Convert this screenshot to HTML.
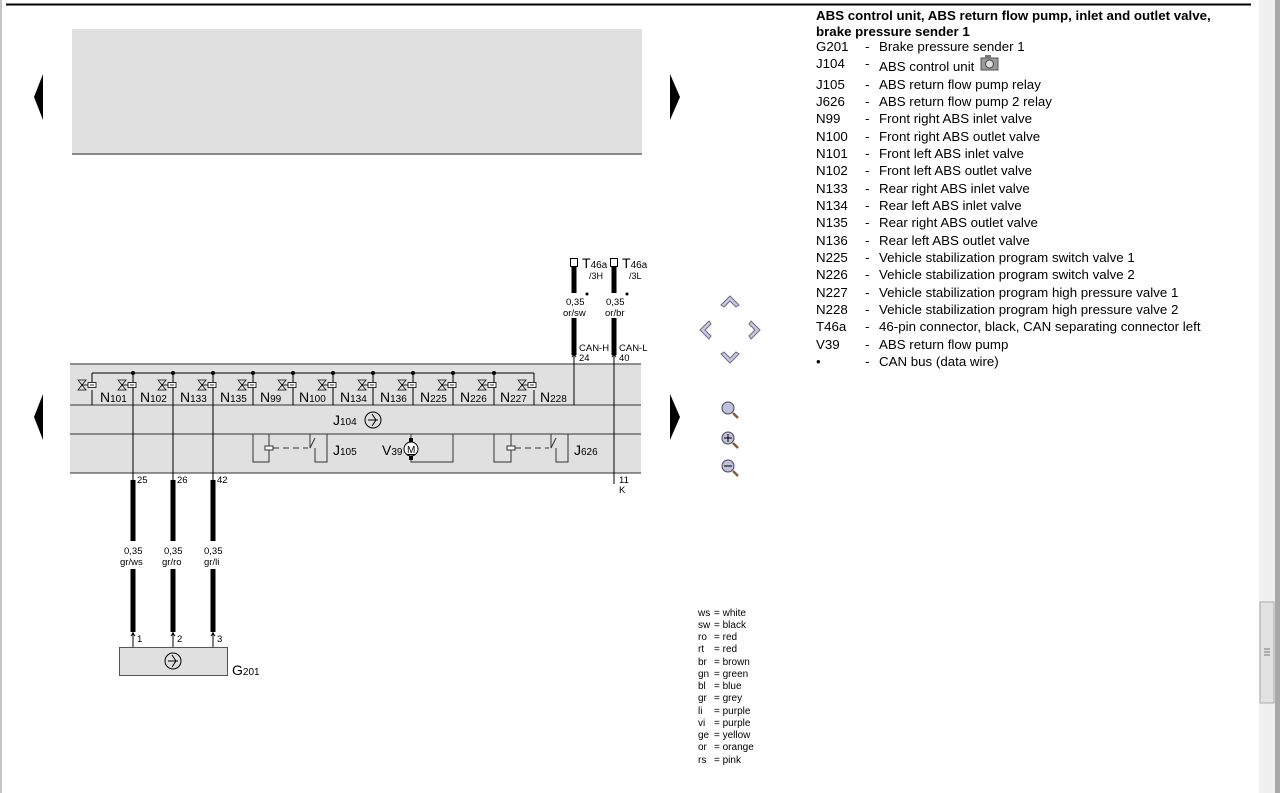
<!DOCTYPE html>
<html><head><meta charset="utf-8"><style>
html,body{margin:0;padding:0;background:#fff;width:1280px;height:793px;overflow:hidden}
svg{position:absolute;left:0;top:0}
text{font-family:"Liberation Sans",Arial,sans-serif;fill:#000}
</style></head><body>
<svg width="1280" height="793" viewBox="0 0 1280 793">
<line x1="1" y1="0" x2="1" y2="793" stroke="#888" stroke-width="1"/>
<line x1="6" y1="4.5" x2="1251" y2="4.5" stroke="#000" stroke-width="2"/>
<rect x="1259" y="0" width="21" height="793" fill="#f0f0f0"/>
<rect x="1275" y="0" width="5" height="793" fill="#a8a8a8"/>
<rect x="1260" y="602" width="14" height="101" fill="#e2e2e2" stroke="#aaa"/>
<path d="M1264 649h6M1264 652h6M1264 655h6" stroke="#777"/>
<rect x="72" y="29" width="570" height="124" fill="#e0e0e0"/>
<line x1="72" y1="154" x2="642" y2="154" stroke="#444" stroke-width="1.2"/>
<path d="M43 74 L34 97 L43 120 Z" fill="#000"/>
<path d="M670 74 L680 97 L670 120 Z" fill="#000"/>
<path d="M43 394 L34 417 L43 440 Z" fill="#000"/>
<path d="M670 394 L680 417 L670 440 Z" fill="#000"/>
<rect x="70" y="364" width="571" height="109" fill="#e0e0e0"/>
<g stroke="#555" stroke-width="1.2" fill="none">
<line x1="70" y1="364" x2="641" y2="364"/>
<line x1="70" y1="405" x2="641" y2="405"/>
<line x1="70" y1="434" x2="641" y2="434"/>
<line x1="70" y1="473" x2="641" y2="473"/>
</g>
<g stroke="#000" stroke-width="1" fill="none">
<line x1="92" y1="373" x2="534" y2="373"/>
<line x1="92" y1="373" x2="92" y2="382"/>
<line x1="534" y1="373" x2="534" y2="382"/>
<path d="M133 373V473M173 373V473M213 373V473M253 373V405M293 373V405M333 373V405M373 373V405M413 373V405M453 373V405M494 373V405"/>
<path d="M92 390V405M534 390V405"/>
</g>
<g fill="#000">
<circle cx="133" cy="373" r="2"/><circle cx="173" cy="373" r="2"/><circle cx="213" cy="373" r="2"/><circle cx="253" cy="373" r="2"/><circle cx="293" cy="373" r="2"/><circle cx="333" cy="373" r="2"/><circle cx="373" cy="373" r="2"/><circle cx="413" cy="373" r="2"/><circle cx="453" cy="373" r="2"/><circle cx="494" cy="373" r="2"/>
</g>
<g stroke="#000" stroke-width="0.8" fill="#fff">
<g id="v"><path d="M78 380L86 380L78 390L86 390Z" fill="none"/><line x1="82" y1="385" x2="88" y2="385"/><rect x="88" y="382.5" width="8" height="5"/><line x1="90" y1="385" x2="94" y2="385"/></g>
<use href="#v" x="40"/><use href="#v" x="80"/><use href="#v" x="120"/><use href="#v" x="160"/><use href="#v" x="200"/><use href="#v" x="240"/><use href="#v" x="280"/><use href="#v" x="320"/><use href="#v" x="360"/><use href="#v" x="400"/><use href="#v" x="440"/>
</g>
<g font-size="14">
<text x="100" y="402">N<tspan font-size="10">101</tspan></text>
<text x="140" y="402">N<tspan font-size="10">102</tspan></text>
<text x="180" y="402">N<tspan font-size="10">133</tspan></text>
<text x="220" y="402">N<tspan font-size="10">135</tspan></text>
<text x="260" y="402">N<tspan font-size="10">99</tspan></text>
<text x="299" y="402">N<tspan font-size="10">100</tspan></text>
<text x="340" y="402">N<tspan font-size="10">134</tspan></text>
<text x="380" y="402">N<tspan font-size="10">136</tspan></text>
<text x="420" y="402">N<tspan font-size="10">225</tspan></text>
<text x="460" y="402">N<tspan font-size="10">226</tspan></text>
<text x="500" y="402">N<tspan font-size="10">227</tspan></text>
<text x="540" y="402">N<tspan font-size="10">228</tspan></text>
<text x="333" y="425">J<tspan font-size="10">104</tspan></text>
<text x="333" y="455">J<tspan font-size="10">105</tspan></text>
<text x="382" y="455">V<tspan font-size="10">39</tspan></text>
<text x="574" y="455">J<tspan font-size="10">626</tspan></text>
<text x="232" y="675">G<tspan font-size="10">201</tspan></text>
</g>
<g stroke="#000" stroke-width="1" fill="none">
<circle cx="373" cy="420" r="8"/><path d="M368 420H378M372 414L376 420L372 426"/>
</g>
<g stroke="#333" stroke-width="1" fill="none">
<path d="M269 434V462H253V434"/><rect x="265" y="446" width="8" height="4" fill="#fff"/>
<path d="M273 448H308" stroke-dasharray="6,4"/>
<path d="M310 434V448L315 438M315 448V462H327V434"/>
<path d="M411 434V441M411 458V462H453V434"/>
<path d="M511 434V462H494V434"/><rect x="507" y="446" width="8" height="4" fill="#fff"/>
<path d="M515 448H549" stroke-dasharray="6,4"/>
<path d="M551 434V448L556 438M556 448V462H568V434"/>
</g>
<rect x="409" y="438" width="4" height="4" fill="#000"/><rect x="409" y="456" width="4" height="4" fill="#000"/>
<circle cx="411" cy="449" r="7" fill="#fff" stroke="#000"/>
<text x="407" y="453" font-size="10" text-decoration="underline">M</text>
<g fill="none" stroke="#000">
<rect x="570.5" y="258.5" width="7" height="8" stroke-width="1"/>
<rect x="610.5" y="258.5" width="7" height="8" stroke-width="1"/>
<line x1="574" y1="267" x2="574" y2="293" stroke-width="5"/>
<line x1="574" y1="318" x2="574" y2="355" stroke-width="5"/>
<line x1="614" y1="267" x2="614" y2="293" stroke-width="5"/>
<line x1="614" y1="318" x2="614" y2="355" stroke-width="5"/>
<line x1="574" y1="352" x2="574" y2="405" stroke-width="1"/>
<line x1="614" y1="352" x2="614" y2="484" stroke-width="1"/>
<path d="M572 357L574 354L576 357M612 357L614 354L616 357" stroke-width="1"/>
</g>
<circle cx="587" cy="294" r="1.5"/><circle cx="627" cy="294" r="1.5"/>
<g font-size="10">
<text x="582" y="268" font-size="14">T<tspan font-size="10">46a</tspan></text>
<text x="622" y="268" font-size="14">T<tspan font-size="10">46a</tspan></text>
<text x="589" y="279" font-size="9">/3H</text>
<text x="629" y="279" font-size="9">/3L</text>
<text x="566" y="305" font-size="9.5">0,35</text><text x="563" y="316" font-size="9.5">or/sw</text>
<text x="606" y="305" font-size="9.5">0,35</text><text x="605" y="316" font-size="9.5">or/br</text>
<text x="579" y="351" font-size="9.5">CAN-H</text><text x="619" y="351" font-size="9.5">CAN-L</text>
<text x="579" y="361" font-size="9.5">24</text><text x="619" y="361" font-size="9.5">40</text>
<text x="619" y="483" font-size="9.5">11</text><text x="619" y="493" font-size="9.5">K</text>
</g>
<g fill="none" stroke="#000">
<path d="M133 480V541M133 569V632M173 480V541M173 569V632M213 480V541M213 569V632" stroke-width="5"/>
<path d="M133 473V484M173 473V484M213 473V484M133 632V647M173 632V647M213 632V647" stroke-width="1"/>
<path d="M131 480L133 484L135 480M171 480L173 484L175 480M211 480L213 484L215 480M131 636L133 633L135 636M171 636L173 633L175 636M211 636L213 633L215 636" stroke-width="1"/>
</g>
<g font-size="9.5">
<text x="137" y="483">25</text><text x="177" y="483">26</text><text x="217" y="483">42</text>
<text x="124" y="554">0,35</text><text x="120" y="565">gr/ws</text>
<text x="164" y="554">0,35</text><text x="162" y="565">gr/ro</text>
<text x="204" y="554">0,35</text><text x="204" y="565">gr/li</text>
<text x="137" y="642">1</text><text x="177" y="642">2</text><text x="217" y="642">3</text>
</g>
<rect x="119.5" y="647.5" width="108" height="28" fill="#e0e0e0" stroke="#555"/>
<circle cx="173" cy="661" r="8" fill="none" stroke="#000"/><path d="M168 661H178M172 655L176 661L172 667" stroke="#000" fill="none"/>
<g fill="#c8c8dc" stroke="#6a6a8a" stroke-width="1">
<path d="M721 305L730 296L739 305L736 307L730 301L724 307Z"/>
<path d="M721 354L730 363L739 354L736 352L730 358L724 352Z"/>
<path d="M709 321L700 330L709 339L711 336L705 330L711 324Z"/>
<path d="M751 321L760 330L751 339L749 336L755 330L749 324Z"/>
</g>
<g stroke="#8a5a2a" stroke-width="2.5"><line x1="733" y1="413" x2="738" y2="418"/><line x1="733" y1="443" x2="738" y2="448"/><line x1="733" y1="471" x2="738" y2="476"/></g>
<g fill="#c0c0d8" stroke="#444466"><circle cx="728" cy="408" r="6"/><circle cx="728" cy="438" r="6"/><circle cx="728" cy="466" r="6"/></g>
<path d="M724 438h8M728 434v8M724 466h8" stroke="#000"/>
<g font-size="10">
<text x="698" y="616">ws</text><text x="714" y="616">= white</text>
<text x="698" y="628">sw</text><text x="714" y="628">= black</text>
<text x="698" y="640">ro</text><text x="714" y="640">= red</text>
<text x="698" y="652">rt</text><text x="714" y="652">= red</text>
<text x="698" y="665">br</text><text x="714" y="665">= brown</text>
<text x="698" y="677">gn</text><text x="714" y="677">= green</text>
<text x="698" y="689">bl</text><text x="714" y="689">= blue</text>
<text x="698" y="701">gr</text><text x="714" y="701">= grey</text>
<text x="698" y="714">li</text><text x="714" y="714">= purple</text>
<text x="698" y="726">vi</text><text x="714" y="726">= purple</text>
<text x="698" y="738">ge</text><text x="714" y="738">= yellow</text>
<text x="698" y="750">or</text><text x="714" y="750">= orange</text>
<text x="698" y="763">rs</text><text x="714" y="763">= pink</text>
</g>
<g font-size="13.3" font-weight="bold">
<text x="816" y="20">ABS control unit, ABS return flow pump, inlet and outlet valve,</text>
<text x="816" y="36">brake pressure sender 1</text>
</g>
<g font-size="13.3">
<text x="816" y="51">G201</text><text x="865" y="51">-</text><text x="879" y="51">Brake pressure sender 1</text>
<text x="816" y="68">J104</text><text x="865" y="68">-</text><text x="879" y="71">ABS control unit</text>
<text x="816" y="89">J105</text><text x="865" y="89">-</text><text x="879" y="89">ABS return flow pump relay</text>
<text x="816" y="106">J626</text><text x="865" y="106">-</text><text x="879" y="106">ABS return flow pump 2 relay</text>
<text x="816" y="123">N99</text><text x="865" y="123">-</text><text x="879" y="123">Front right ABS inlet valve</text>
<text x="816" y="141">N100</text><text x="865" y="141">-</text><text x="879" y="141">Front right ABS outlet valve</text>
<text x="816" y="158">N101</text><text x="865" y="158">-</text><text x="879" y="158">Front left ABS inlet valve</text>
<text x="816" y="175">N102</text><text x="865" y="175">-</text><text x="879" y="175">Front left ABS outlet valve</text>
<text x="816" y="193">N133</text><text x="865" y="193">-</text><text x="879" y="193">Rear right ABS inlet valve</text>
<text x="816" y="210">N134</text><text x="865" y="210">-</text><text x="879" y="210">Rear left ABS inlet valve</text>
<text x="816" y="227">N135</text><text x="865" y="227">-</text><text x="879" y="227">Rear right ABS outlet valve</text>
<text x="816" y="245">N136</text><text x="865" y="245">-</text><text x="879" y="245">Rear left ABS outlet valve</text>
<text x="816" y="262">N225</text><text x="865" y="262">-</text><text x="879" y="262">Vehicle stabilization program switch valve 1</text>
<text x="816" y="279">N226</text><text x="865" y="279">-</text><text x="879" y="279">Vehicle stabilization program switch valve 2</text>
<text x="816" y="297">N227</text><text x="865" y="297">-</text><text x="879" y="297">Vehicle stabilization program high pressure valve 1</text>
<text x="816" y="314">N228</text><text x="865" y="314">-</text><text x="879" y="314">Vehicle stabilization program high pressure valve 2</text>
<text x="816" y="331">T46a</text><text x="865" y="331">-</text><text x="879" y="331">46-pin connector, black, CAN separating connector left</text>
<text x="816" y="349">V39</text><text x="865" y="349">-</text><text x="879" y="349">ABS return flow pump</text>
<text x="816" y="366">•</text><text x="865" y="366">-</text><text x="879" y="366">CAN bus (data wire)</text>
</g>
<g><rect x="981" y="58" width="17" height="12" fill="#999" stroke="#555"/><rect x="985" y="55" width="6" height="4" fill="#777"/><circle cx="989.5" cy="64" r="4" fill="#ddd" stroke="#444"/></g>
</svg>
</body></html>
